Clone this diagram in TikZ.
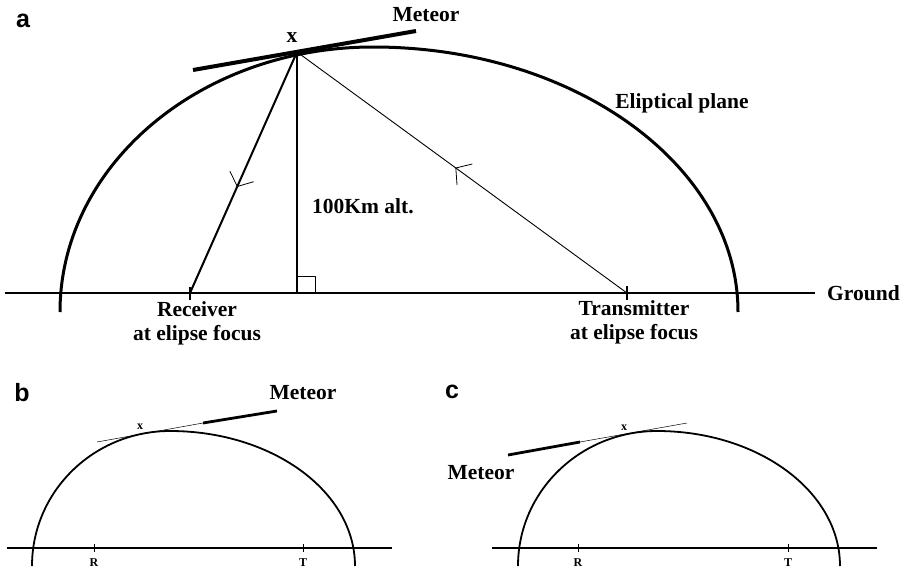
\documentclass[tikz,border=0pt]{standalone}
\usepackage{fontspec}
\setmainfont{Liberation Serif}
\newfontfamily\panelfont{Liberation Sans}
\usetikzlibrary{arrows.meta,decorations.markings}
\tikzset{
  lbl/.style={font=\fontsize{21.5}{24}\selectfont\bfseries, inner sep=0pt, align=center},
  small/.style={font=\fontsize{12}{14}\selectfont\bfseries, inner sep=0pt},
  panel/.style={font=\panelfont\fontsize{25}{28}\selectfont\bfseries, inner sep=0pt},
  midarrow/.style={decoration={markings, mark=at position #1 with {\arrow{Straight Barb[length=11pt,width=26pt,line width=0.8pt]}}}, postaction=decorate},
}
\begin{document}
\begin{tikzpicture}[x=1pt,y=-1pt, line join=round]
\path[use as bounding box, fill=white] (0,0) rectangle (908,573);

% ---------------- panel a ----------------
\node[panel] (pa) at (23,21) {a};
\coordinate (X) at (297,52);
\coordinate (R) at (190,293);
\coordinate (T) at (627,293);
\coordinate (G0) at (5,293);
\coordinate (G1) at (815,293);
\coordinate (F) at (297,293);
\coordinate (M0) at (193,70);
\coordinate (M1) at (416,31);

\draw[line width=1.3pt] (G0) -- (G1);
\draw[line width=3pt] (60,312) .. controls (60,165.6) and (200.1,47) .. (373,47)
      .. controls (574.6,47) and (738,165.6) .. (738,312);
\draw[line width=4pt] (M0) -- (M1);
\draw[line width=1.2pt] (X) -- (F);
\draw[line width=0.9pt] (297,276) -| (315,293);
\draw[line width=2pt, midarrow=0.56] (X) -- (R);
\draw[line width=0.9pt, midarrow=0.52] (T) -- (X);
\draw[line width=2pt] (190,287) -- (190,300);
\draw[line width=1.5pt] (627,286) -- (627,300);

\node[lbl] (meteorA) at (426,15) {Meteor};
\node[lbl] (xA) at (292,38) {x};
\node[lbl] (plane) at (682,103) {Eliptical plane};
\node[lbl, anchor=west] (alt) at (312,206) {100Km alt.};
\node[lbl] (recv) at (197,323) {Receiver\\at elipse focus};
\node[lbl] (trans) at (634,322) {Transmitter\\at elipse focus};
\node[lbl, anchor=west] (ground) at (827,293) {Ground};

% ---------------- panel b ----------------
\node[panel] (pb) at (22,393) {b};
\coordinate (bG0) at (7,548);
\coordinate (bG1) at (392,548);
\draw[line width=1.1pt] (bG0) -- (bG1);
\draw[line width=1.8pt] (32,566) .. controls (32,491.4) and (93.8,431) .. (170,431)
      .. controls (272.2,431) and (355,491.4) .. (355,566);
\coordinate (bt0) at (97,442);
\coordinate (bt1) at (203,423);
\coordinate (bm1) at (277,411);
\draw[line width=0.5pt] (bt0) -- (bt1);
\draw[line width=2.8pt] (bt1) -- (bm1);
\draw[line width=0.8pt] (94,544) -- (94,552);
\draw[line width=0.8pt] (303,544) -- (303,552);
\node[small] (bR) at (94,563) {R};
\node[small] (bT) at (303,563) {T};
\node[small] (bx) at (140,427) {x};
\node[lbl] (meteorB) at (303,393) {Meteor};

% ---------------- panel c ----------------
\node[panel] (pc) at (452,392) {c};
\coordinate (cG0) at (492,548);
\coordinate (cG1) at (877,548);
\draw[line width=1.1pt] (cG0) -- (cG1);
\draw[line width=1.8pt] (518,566) .. controls (518,491.4) and (580.2,431) .. (657,431)
      .. controls (758.1,431) and (840,491.4) .. (840,566);
\coordinate (cm0) at (508,455);
\coordinate (ct0) at (580,442);
\coordinate (ct1) at (687,423);
\draw[line width=2.8pt] (cm0) -- (ct0);
\draw[line width=0.5pt] (ct0) -- (ct1);
\draw[line width=0.8pt] (578,544) -- (578,552);
\draw[line width=0.8pt] (788,544) -- (788,552);
\node[small] (cR) at (578,563) {R};
\node[small] (cT) at (788,563) {T};
\node[small] (cx) at (624,428) {x};
\node[lbl] (meteorC) at (481,473) {Meteor};
\end{tikzpicture}
\end{document}
